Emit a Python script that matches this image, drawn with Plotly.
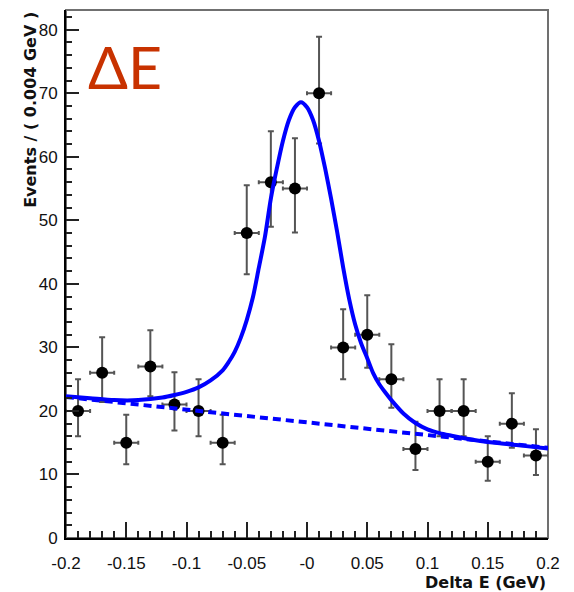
import plotly.graph_objects as go

# Binned Delta E data (bin centres, counts, asymmetric Poisson errors)
bin_centers = [-0.19, -0.17, -0.15, -0.13, -0.11, -0.09, -0.07, -0.05, -0.03, -0.01,
               0.01, 0.03, 0.05, 0.07, 0.09, 0.11, 0.13, 0.15, 0.17, 0.19]
counts = [20, 26, 15, 27, 21, 20, 15, 48, 56, 55,
          70, 30, 32, 25, 14, 20, 20, 12, 18, 13]
err_hi = [5.0, 5.6, 4.4, 5.7, 5.1, 5.0, 4.4, 7.5, 8.0, 7.9,
          8.9, 6.0, 6.2, 5.5, 4.3, 5.0, 5.0, 4.0, 4.8, 4.1]
err_lo = [4.0, 4.6, 3.4, 4.7, 4.1, 4.0, 3.4, 6.5, 7.0, 6.9,
          7.9, 5.0, 5.2, 4.5, 3.3, 4.0, 4.0, 3.0, 3.8, 3.1]
bin_half_width = [0.01] * len(bin_centers)

# Total fit (signal + background), sampled along Delta E
fit_x = [-0.200, -0.180, -0.160, -0.140, -0.120, -0.110, -0.100, -0.090, -0.080,
         -0.070, -0.065, -0.060, -0.055, -0.050, -0.045, -0.040, -0.035, -0.030,
         -0.025, -0.020, -0.015, -0.010, -0.005, 0.000, 0.005, 0.010, 0.015,
         0.020, 0.025, 0.030, 0.035, 0.040, 0.045, 0.050, 0.055, 0.060, 0.065,
         0.070, 0.080, 0.090, 0.100, 0.110, 0.120, 0.140, 0.160, 0.180, 0.200]
fit_y = [22.3, 22.0, 21.7, 21.7, 22.1, 22.5, 23.0, 23.7, 24.8,
         26.4, 27.7, 29.3, 31.5, 34.3, 37.8, 42.5, 47.3, 53.4,
         58.2, 62.5, 65.8, 67.8, 68.6, 67.8, 65.8, 62.5, 58.2,
         53.4, 48.2, 42.6, 37.6, 33.6, 30.6, 28.3, 25.9, 24.2, 22.9,
         21.7, 19.6, 18.1, 17.1, 16.5, 16.1, 15.4, 14.9, 14.5, 14.1]

# Background component
bkg_x = [-0.2, 0.2]
bkg_y = [22.2, 14.2]

x_tick_vals = [-0.2, -0.15, -0.1, -0.05, 0.0, 0.05, 0.1, 0.15, 0.2]
x_tick_text = ["-0.2", "-0.15", "-0.1", "-0.05", "-0", "0.05", "0.1", "0.15", "0.2"]
y_tick_vals = [0, 10, 20, 30, 40, 50, 60, 70, 80]

FONT = "Liberation Sans, Arial, sans-serif"
TITLE_FONT = "DejaVu Sans, sans-serif"
BLUE = "#0000FF"

fig = go.Figure()

fig.add_trace(go.Scatter(
    x=bin_centers, y=counts, mode="markers",
    marker=dict(color="black", size=12, symbol="circle"),
    error_y=dict(type="data", symmetric=False, array=err_hi, arrayminus=err_lo,
                 color="#555555", thickness=2, width=3),
    error_x=dict(type="data", array=bin_half_width, color="#555555", thickness=2, width=2),
    showlegend=False,
))

fig.add_trace(go.Scatter(
    x=bkg_x, y=bkg_y, mode="lines",
    line=dict(color=BLUE, width=4, dash="8px,5px"),
    showlegend=False,
))

fig.add_trace(go.Scatter(
    x=fit_x, y=fit_y, mode="lines",
    line=dict(color=BLUE, width=4, shape="spline", smoothing=0.8),
    showlegend=False,
))

# Frame (top/right in grey, axes drawn in black on top)
fig.add_shape(type="rect", xref="paper", yref="paper", x0=0, y0=0, x1=1, y1=1,
              line=dict(color="#707070", width=2), layer="below")

fig.update_layout(
    width=574, height=592,
    margin=dict(l=66, r=26, t=10, b=54),
    paper_bgcolor="white", plot_bgcolor="white",
    font=dict(family=FONT, color="#111111", size=17),
    xaxis=dict(
        range=[-0.2, 0.2], showgrid=False, zeroline=False,
        showline=True, linecolor="black", linewidth=2,
        ticks="inside", ticklen=16, tickwidth=1.5, tickcolor="#222222",
        tickvals=x_tick_vals, ticktext=x_tick_text,
        tickfont=dict(family=FONT, size=17, color="#111111"),
        ticklabelstandoff=9,
        minor=dict(dtick=0.01, tick0=0.0, ticks="inside", ticklen=7,
                   tickwidth=1.5, tickcolor="#222222", showgrid=False),
    ),
    yaxis=dict(
        range=[0, 83.1], showgrid=False, zeroline=False,
        showline=True, linecolor="black", linewidth=2,
        ticks="inside", ticklen=13, tickwidth=1.5, tickcolor="#222222",
        tickvals=y_tick_vals,
        tickfont=dict(family=FONT, size=17, color="#111111"),
        ticklabelstandoff=3,
        minor=dict(dtick=2, tick0=0, ticks="inside", ticklen=6,
                   tickwidth=1.5, tickcolor="#222222", showgrid=False),
    ),
    annotations=[
        dict(text="<b>Delta E (GeV)</b>", xref="paper", yref="paper",
             x=1.0, y=-0.085, xanchor="right", yanchor="middle", showarrow=False,
             font=dict(family=TITLE_FONT, size=16, color="#111111")),
        dict(text="<b>Events / ( 0.004 GeV )</b>", xref="paper", yref="paper",
             x=-0.075, y=1.0, xanchor="center", yanchor="top", textangle=-90,
             showarrow=False, font=dict(family=TITLE_FONT, size=16, color="#111111")),
        dict(text="ΔE", xref="paper", yref="paper",
             x=0.042, y=0.893, xanchor="left", yanchor="middle", showarrow=False,
             font=dict(family="Lato, Open Sans, sans-serif", size=59, color="#C83200")),
    ],
)

fig.write_html("out.html")
